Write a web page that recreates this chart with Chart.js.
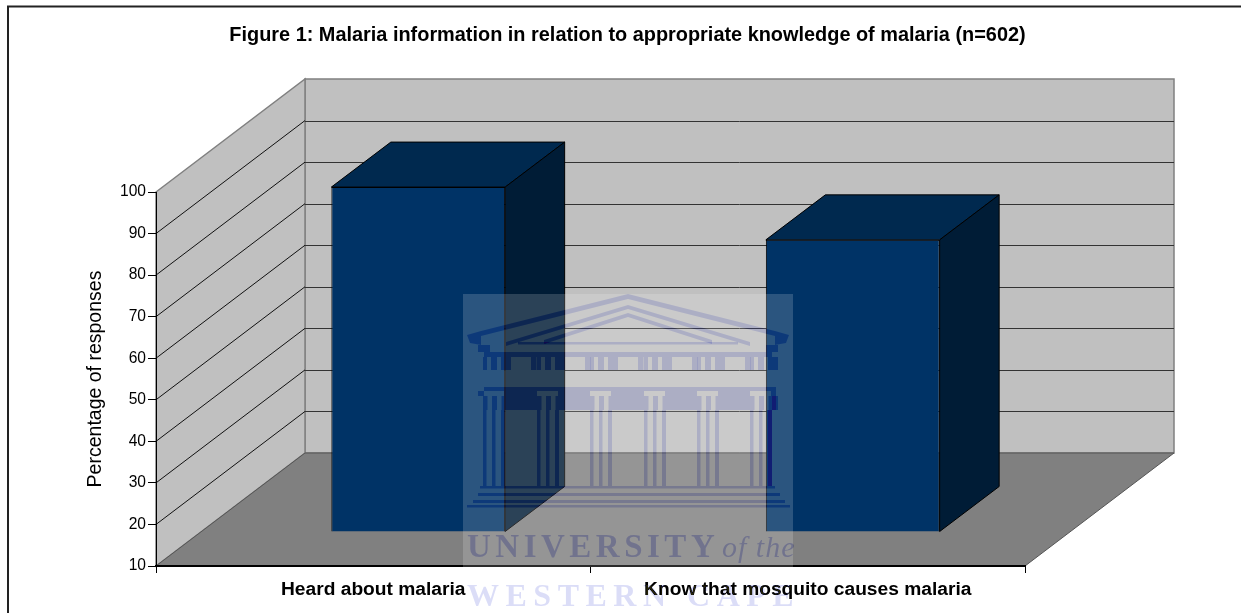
<!DOCTYPE html>
<html>
<head>
<meta charset="utf-8">
<title>Malaria information</title>
<script src="https://cdn.jsdelivr.net/npm/chart.js@4"></script>
<style>
  html, body { margin: 0; padding: 0; background: #fff; overflow: hidden; }
  #wrap { width: 1241px; height: 613px; }
</style>
</head>
<body>
<div id="wrap"><canvas id="chart"></canvas></div>
<script>
const categories = ['Heard about malaria', 'Know that mosquito causes malaria']
const responses = [93, 80.3]
const yMin = 10
const yMax = 100
const yStep = 10
const chartTitle = 'Figure 1: Malaria information in relation to appropriate knowledge of malaria (n=602)'
const yTitle = 'Percentage of responses'

// 3d look: how far the walls and bars are pushed back
const wallDepth = { x: 149, y: 113 }
const barGap = { x: 45, y: 34 }
const barDepth = { x: 59.5, y: 45 }

function poly(ctx, pts, fill, stroke, lineWidth) {
  ctx.beginPath()
  pts.forEach((p, i) => i ? ctx.lineTo(p[0], p[1]) : ctx.moveTo(p[0], p[1]))
  ctx.closePath()
  if (fill) { ctx.fillStyle = fill; ctx.fill() }
  if (stroke) { ctx.strokeStyle = stroke; ctx.lineWidth = lineWidth || 1; ctx.stroke() }
}

const walls3d = {
  id: 'walls3d',
  afterLayout(chart) {
    // title sits centred on the frame, not on the plot
    chart.titleBlock.left = 14
    chart.titleBlock.right = chart.width
  },
  beforeDraw(chart) {
    const { ctx, chartArea: a, scales: { y } } = chart
    const d = wallDepth
    ctx.save()
    // the stamp blends with the page, so the page has to be painted
    ctx.fillStyle = '#fff'
    ctx.fillRect(0, 0, chart.width, chart.height)

    // outer frame
    ctx.strokeStyle = '#222'
    ctx.lineWidth = 2
    ctx.beginPath()
    ctx.moveTo(8, chart.height)
    ctx.lineTo(8, 6.5)
    ctx.lineTo(chart.width, 6.5)
    ctx.stroke()

    // back wall, side wall, floor
    poly(ctx, [[a.left + d.x, a.top - d.y], [a.right + d.x, a.top - d.y], [a.right + d.x, a.bottom - d.y], [a.left + d.x, a.bottom - d.y]], '#c0c0c0', '#808080', 1.5)
    poly(ctx, [[a.left, a.top], [a.left + d.x, a.top - d.y], [a.left + d.x, a.bottom - d.y], [a.left, a.bottom]], '#c0c0c0', '#808080', 1.5)

    for (let v = yMin + yStep; v < yMax; v += yStep) {
      const py = y.getPixelForValue(v)
      ctx.strokeStyle = '#111'
      ctx.lineWidth = 1
      ctx.beginPath()
      ctx.moveTo(a.left, py)
      ctx.lineTo(a.left + d.x, py - d.y)
      ctx.stroke()
      ctx.strokeStyle = '#333'
      ctx.beginPath()
      ctx.moveTo(a.left + d.x, Math.round(py - d.y) + 0.5)
      ctx.lineTo(a.right + d.x, Math.round(py - d.y) + 0.5)
      ctx.stroke()
    }
    poly(ctx, [[a.left, a.bottom], [a.left + d.x, a.bottom - d.y], [a.right + d.x, a.bottom - d.y], [a.right, a.bottom]], '#808080', '#555', 1)
    ctx.restore()
  },
  beforeDatasetsDraw(chart) {
    const { ctx } = chart
    ctx.save()
    ctx.translate(barGap.x, -barGap.y)
  },
  afterDatasetsDraw(chart) {
    const { ctx } = chart
    const d = barDepth
    chart.getDatasetMeta(0).data.forEach(bar => {
      const l = bar.x - bar.width / 2
      const r = bar.x + bar.width / 2
      poly(ctx, [[l, bar.y], [l + d.x, bar.y - d.y], [r + d.x, bar.y - d.y], [r, bar.y]], '#00294f', '#000', 1)
      poly(ctx, [[r, bar.y], [r + d.x, bar.y - d.y], [r + d.x, bar.base - d.y], [r, bar.base]], '#001c36', '#000', 1)
    })
    ctx.restore()
  },
  afterDraw(chart) {
    drawWatermark(chart.ctx)
  }
}

// the university stamp lying over the page scan
function drawWatermark(ctx) {
  const box = (x, y, w, h) => ctx.fillRect(x, y, w, h)
  ctx.save()
  ctx.fillStyle = 'rgba(255,255,255,0.17)'
  ctx.fillRect(463, 294, 330, 273)

  // ink darkens whatever is under it by a fixed amount
  ctx.globalCompositeOperation = 'difference'
  ctx.filter = 'blur(0.6px)'
  const ink = 'rgb(30,28,6)'
  ctx.fillStyle = ink

  // pediment, three roof lines and the eaves
  const roof = (top, dx, dy, t) => {
    poly(ctx, [[628 - dx, top + dy], [628, top], [628 + dx, top + dy], [628 + dx, top + dy + t], [628, top + t], [628 - dx, top + dy + t]], ink)
  }
  roof(294, 147, 37, 5)
  roof(305, 122, 37, 4)
  roof(313, 84, 27, 4)
  poly(ctx, [[775, 331], [789, 335], [786, 343], [775, 345]], ink)
  poly(ctx, [[481, 331], [467, 335], [470, 343], [481, 345]], ink)
  box(518, 342, 220, 2.5)
  box(478, 345, 12, 7)
  box(766, 345, 12, 7)
  box(484, 352, 288, 5)

  // frieze, one module per column
  const modules = [483, 537, 590, 644, 697, 750]
  modules.forEach(m => {
    box(m, 357, 4, 13)
    box(m + 8, 357, 6, 13)
    box(m + 18, 357, 10, 13)
    if (m < 750) box(m + 48, 357, 5.5, 13)
  })

  // dark band with capitals and shafts left open
  box(484, 387, 292, 4)
  modules.forEach((m, i) => {
    const next = i < modules.length - 1 ? modules[i + 1] : 776
    box(m + 21, 391, next - m - 21, 5)
    box(m + 21, 396, next - m - 21, 14)
    box(m + 9, 396, 5, 14)
    box(m, 396, 4.5, 14)
    box(m + 18.5, 396, 2.5, 14)
  })
  box(484 - 6, 391, 6, 5)
  box(772, 396, 6, 14)

  // shafts
  modules.forEach(m => {
    box(m, 410, 3.5, 76)
    box(m + 9, 410, 3.5, 76)
    box(m + 18, 410, 4, 76)
  })
  box(767, 410, 5, 76)

  // steps
  box(480, 486, 295, 2.5)
  box(478, 493, 302, 3)
  box(473, 500, 312, 3)
  box(467, 505, 323, 2.5)

  ctx.textBaseline = 'alphabetic'
  ctx.fillStyle = 'rgb(36,34,8)'
  ctx.font = 'bold 33px "Liberation Serif"'
  ctx.letterSpacing = '4.5px'
  ctx.fillText('UNIVERSITY', 467, 557)
  ctx.font = 'italic 30px "Liberation Serif"'
  ctx.letterSpacing = '1px'
  ctx.fillText('of the', 722, 557)
  ctx.font = 'bold 32px "Liberation Serif"'
  ctx.letterSpacing = '6.5px'
  ctx.fillText('WESTERN CAPE', 467, 606)
  ctx.restore()
}

new Chart(document.getElementById('chart').getContext('2d'), {
  type: 'bar',
  data: {
    labels: categories,
    datasets: [{
      data: responses,
      base: yMin,
      backgroundColor: '#003366',
      borderColor: '#000',
      borderWidth: 1,
      barPercentage: 0.4,
      categoryPercentage: 1
    }]
  },
  plugins: [walls3d],
  options: {
    responsive: true,
    maintainAspectRatio: false,
    animation: false,
    events: [],
    layout: { padding: { left: 0, right: 216, top: 0, bottom: 0 } },
    plugins: {
      legend: { display: false },
      tooltip: { enabled: false },
      title: {
        display: true,
        text: chartTitle,
        color: '#000',
        font: { family: '"Liberation Sans"', size: 19.9, weight: 'bold', lineHeight: 1.2 },
        padding: { top: 24, bottom: 144.12 }
      }
    },
    scales: {
      x: {
        afterFit(scale) { scale.height = 47 },
        grid: { drawOnChartArea: false, drawTicks: true, tickLength: 7, color: '#000' },
        border: { color: '#000', width: 2 },
        ticks: {
          color: '#000',
          maxRotation: 0,
          padding: 5,
          font: { family: '"Liberation Sans"', size: 19.2, weight: 'bold' }
        }
      },
      y: {
        min: yMin,
        max: yMax,
        afterFit(scale) { scale.width = 156 },
        grid: { drawOnChartArea: false, drawTicks: true, tickLength: 8, color: '#000' },
        border: { color: '#000', width: 1 },
        ticks: {
          stepSize: yStep,
          color: '#000',
          padding: 2,
          font: { family: '"Liberation Sans"', size: 15.6 }
        },
        title: {
          display: true,
          text: yTitle,
          color: '#000',
          padding: { top: 84, bottom: 0 },
          font: { family: '"Liberation Sans"', size: 19.5 }
        }
      }
    }
  }
})
</script>
</body>
</html>
